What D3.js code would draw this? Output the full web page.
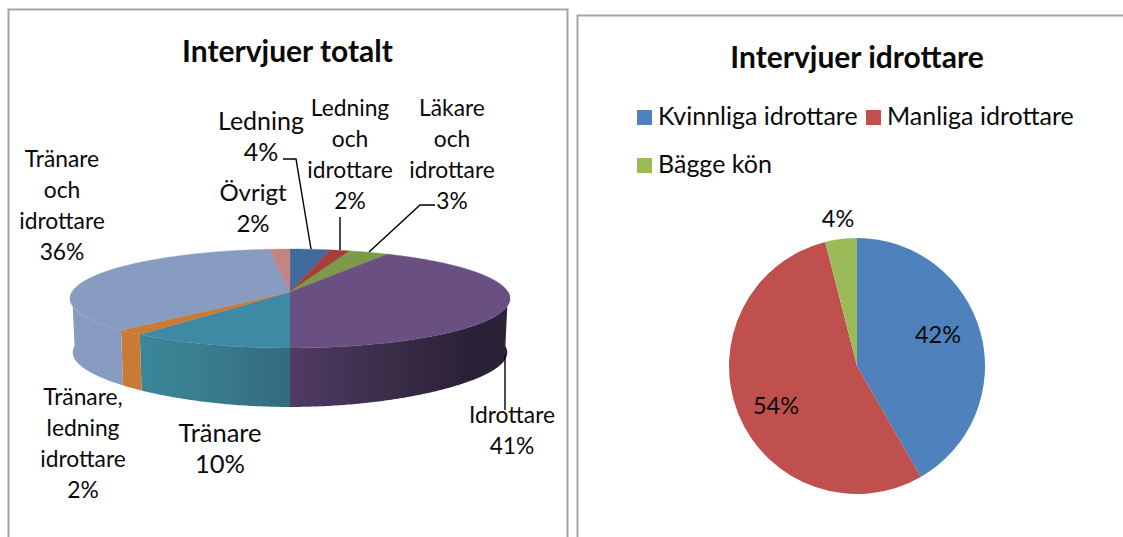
<!DOCTYPE html>
<html><head><meta charset="utf-8">
<script src="https://cdn.jsdelivr.net/npm/d3@7"></script>
<style>html,body{margin:0;padding:0;background:#fff;overflow:hidden}svg{display:block}text{font-family:Lato,"Open Sans",sans-serif;fill:#0a0a0a}</style>
</head><body><svg width="1123" height="537"></svg>
<script>
const totalCategories = ["Ledning","Ledning och idrottare","Läkare och idrottare","Idrottare","Tränare","Tränare, ledning idrottare","Tränare och idrottare","Övrigt"];
const totalValues = [3.3,1.7,3.3,41.7,10.6,1.8,35.9,1.7];
const totalColors = ["#3f6b9f","#a43f3c","#7c9a48","#6a5082","#3e89a3","#c97a35","#879cc0","#c48484"];
const totalLabelLines = [["Ledning","4%"],["Ledning","och","idrottare","2%"],["Läkare","och","idrottare","3%"],["Idrottare","41%"],["Tränare","10%"],["Tränare,","ledning","idrottare","2%"],["Tränare","och","idrottare","36%"],["Övrigt","2%"]];
const athleteCategories = ["Kvinnliga idrottare","Manliga idrottare","Bägge kön"];
const athleteValues = [41.7,54.3,4];
const athleteLabels = ["42%","54%","4%"];
const athleteColors = ["#4f81bd","#c0504d","#9bbb59"];

const svg = d3.select("svg");
const defs = svg.append("defs");
function grad(id, stops){
  const g = defs.append("linearGradient").attr("id",id).attr("gradientUnits","userSpaceOnUse")
    .attr("x1",70).attr("x2",510).attr("y1",0).attr("y2",0);
  stops.forEach(s=>g.append("stop").attr("offset",s[0]).attr("stop-color",s[1]));
}
grad("wallPurple",[[0.5,"#523b66"],[0.72,"#3a2d49"],[0.92,"#292035"],[1,"#2c2339"]]);
grad("wallTeal",[[0.15,"#3a8899"],[0.35,"#39798d"],[0.5,"#326a7f"]]);

// frames
svg.append("path").attr("d","M8.5,538V9.5H567.5V538").attr("fill","none").attr("stroke","#a3a3a3").attr("stroke-width",2);
svg.append("path").attr("d","M1124,15.5H577.5V538").attr("fill","none").attr("stroke","#a3a3a3").attr("stroke-width",2);

// titles
svg.append("text").attr("x",287.5).attr("y",62).attr("text-anchor","middle").attr("font-size",30).attr("font-weight",700).text("Intervjuer totalt");
svg.append("text").attr("x",857).attr("y",67.5).attr("text-anchor","middle").attr("font-size",30).attr("font-weight",700).text("Intervjuer idrottare");

// 3D pie: a circle seen in perspective
const apexX = 290, apexY = 292, sideDepth = 54, frontExtra = 5, bottomShrink = 0.988;
const k = 0.1313;
const sx = d3.scaleLinear().domain([-1,1]).range([apexX-218, apexX+218]);
const sy = d3.scaleLinear().domain([-1,1]).range([apexY+48.6, apexY-48.6]);
function project(theta, lower=false){
  const u=Math.sin(theta), v=Math.cos(theta), w=1+k*v;
  const x=sx(u/w), y=sy(v/w);
  if(!lower) return [x,y];
  return [apexX+(x-apexX)*bottomShrink, y+sideDepth+frontExtra*Math.pow(v,4)];
}
const arcs3d = d3.pie().sort(null).value(d=>d)(totalValues);
const line = d3.line();
function rim(a0,a1,lower=false){
  const n=Math.max(2,Math.ceil((a1-a0)/0.01));
  return d3.range(n+1).map(i=>project(a0+(a1-a0)*i/n,lower));
}
const g3 = svg.append("g");
// walls: only the near half of the rim is visible
const wallFill = {3:"url(#wallPurple)",4:"url(#wallTeal)"};
arcs3d.forEach((d,i)=>{
  const a0=Math.max(d.startAngle,Math.PI/2), a1=Math.min(d.endAngle,Math.PI*1.5);
  if(a1<=a0) return;
  const pts=rim(a0,a1).concat(rim(a0,a1,true).reverse());
  g3.append("path").attr("d",line(pts)+"Z").attr("fill",wallFill[i]||totalColors[i]);
});
// top surface
arcs3d.forEach((d,i)=>{
  const pts=[[apexX,apexY]].concat(rim(d.startAngle,d.endAngle));
  g3.append("path").attr("d",line(pts)+"Z").attr("fill",totalColors[i]).attr("stroke",totalColors[i]).attr("stroke-width",0.4);
});

// leader lines
const leaders=[[[283,159],[296,159],[311,249]],[[340,217],[340,250]],[[435,205],[420,205],[369,252]],[[505,355],[505,410]]];
svg.append("g").selectAll("path").data(leaders).join("path").attr("d",d=>line(d)).attr("fill","none").attr("stroke","#000").attr("stroke-width",1.4);

// labels: [center x, first baseline, line height, font size]
const labelPos=[[261,130,31,25],[350,116,31,22.8],[452,116,31,22.8],[512,423,31,22.8],[220,442,31,25.5],[83,404.5,31,22.8],[62,167,31,22.8],[253,201,31,24]];
const labelG=svg.append("g");
totalLabelLines.forEach((lines,i)=>{
  const p=labelPos[i];
  lines.forEach((t,j)=>{
    labelG.append("text").attr("x",p[0]).attr("y",p[1]+j*p[2]).attr("text-anchor","middle").attr("font-size",p[3]).text(t);
  });
});

// flat pie
const cx=857, cy=366, r=128;
const arc=d3.arc().innerRadius(0).outerRadius(r);
const pg=svg.append("g").attr("transform",`translate(${cx},${cy})`);
const flat=d3.pie().sort(null).value(d=>d)(athleteValues);
pg.selectAll("path").data(flat).join("path").attr("d",arc).attr("fill",(d,i)=>athleteColors[i]);
const flatLabels=[[938,343],[776,414],[838,227]];
svg.append("g").selectAll("text").data(athleteLabels).join("text")
  .attr("x",(d,i)=>flatLabels[i][0]).attr("y",(d,i)=>flatLabels[i][1]).attr("text-anchor","middle").attr("font-size",23.5).text(d=>d);

// legend
const legendPos=[[637,125],[866,125],[637,173]];
const lg=svg.append("g");
athleteCategories.forEach((c,i)=>{
  const [x,y]=legendPos[i];
  lg.append("rect").attr("x",x).attr("y",y-15).attr("width",15).attr("height",15).attr("fill",athleteColors[i]);
  lg.append("text").attr("x",x+21).attr("y",y).attr("font-size",25).text(c);
});
</script></body></html>
